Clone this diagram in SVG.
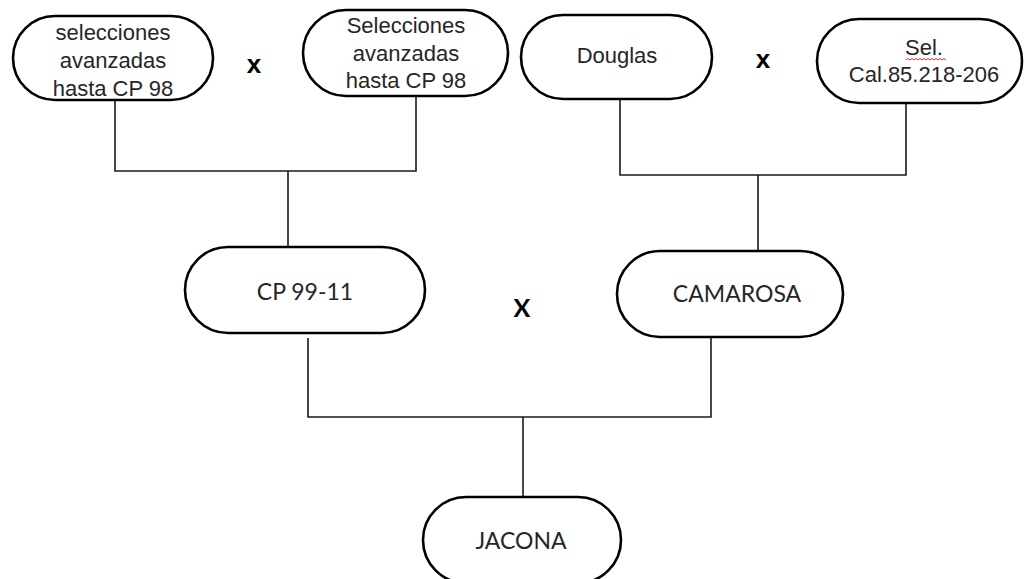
<svg xmlns="http://www.w3.org/2000/svg" width="1026" height="579" viewBox="0 0 1026 579">
<style>
.node{fill:#fff;stroke:#000;stroke-width:2.6}
.conn{fill:none;stroke:#1a1a1a;stroke-width:1.6}
.ta{font-family:"Liberation Sans",Arial,sans-serif;font-size:22px;fill:#262626;text-anchor:middle}
.tc{font-family:Lato,"Open Sans",sans-serif;font-size:23px;fill:#262626;text-anchor:middle}
.x{font-family:"Liberation Sans",Arial,sans-serif;font-weight:bold;font-size:26px;fill:#000;text-anchor:middle}
.xc{font-family:Lato,sans-serif;font-weight:bold;font-size:25px;fill:#000;text-anchor:middle}
</style>
<rect width="1026" height="579" fill="#fff"/>
<g id="connectors">
<path class="conn" d="M115 100 V171 H416 V96"/>
<path class="conn" d="M288 171 V247"/>
<path class="conn" d="M620 99 V175 H906 V103"/>
<path class="conn" d="M758 175 V251"/>
<path class="conn" d="M308 338 V417 H711 V337"/>
<path class="conn" d="M523 417 V497"/>
</g>
<g id="n1">
<rect class="node" x="13" y="16" width="200" height="84" rx="42"/>
<text class="ta" x="113" y="40">selecciones</text>
<text class="ta" x="113" y="68">avanzadas</text>
<text class="ta" x="113" y="96">hasta CP 98</text>
</g>
<g id="n2">
<rect class="node" x="303" y="10" width="205" height="86" rx="43"/>
<text class="ta" x="406" y="33">Selecciones</text>
<text class="ta" x="406" y="61">avanzadas</text>
<text class="ta" x="406" y="88">hasta CP 98</text>
</g>
<g id="n3">
<rect class="node" x="521" y="15" width="191" height="84" rx="42"/>
<text class="ta" x="617" y="63">Douglas</text>
</g>
<g id="n4">
<rect class="node" x="817" y="19" width="205" height="84" rx="42"/>
<text class="ta" x="924" y="55">Sel.</text>
<path d="M906 60 l2 -1.5 l2 1.5 l2 -1.5 l2 1.5 l2 -1.5 l2 1.5 l2 -1.5 l2 1.5 l2 -1.5 l2 1.5 l2 -1.5 l2 1.5 l2 -1.5 l2 1.5 l2 -1.5 l2 1.5 l2 -1.5 l2 1.5 l2 -1.5 l2 1.5" fill="none" stroke="#e03030" stroke-width="1"/>
<text class="ta" x="924" y="82">Cal.85.218-206</text>
</g>
<g id="n5">
<rect class="node" x="185" y="247" width="240" height="86" rx="43"/>
<text class="tc" x="305" y="300">CP 99-11</text>
</g>
<g id="n6">
<rect class="node" x="617" y="251" width="226" height="86" rx="43"/>
<text class="tc" x="737" y="302">CAMAROSA</text>
</g>
<g id="n7">
<rect class="node" x="423" y="497" width="198" height="86" rx="43"/>
<text class="tc" x="521" y="549">JACONA</text>
</g>
<g id="labels">
<text class="x" x="254" y="73">x</text>
<text class="x" x="763" y="68">x</text>
<text class="xc" x="522" y="317">X</text>
</g>
</svg>
